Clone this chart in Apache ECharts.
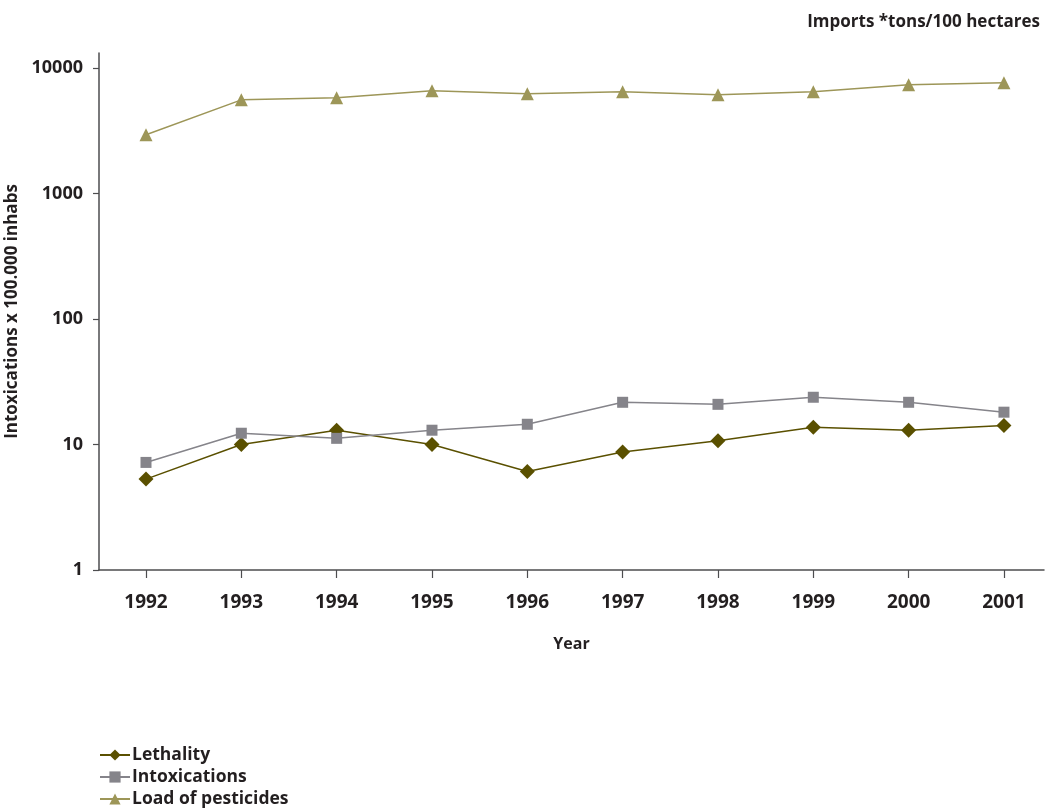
<!DOCTYPE html>
<html>
<head>
<meta charset="utf-8">
<script src="https://cdn.jsdelivr.net/npm/echarts@6/dist/echarts.min.js"></script>
<style>
html,body{margin:0;padding:0;background:#fff;}
#chart{width:1053px;height:812px;}
</style>
</head>
<body>
<div id="chart"></div>
<script>
var years = [1992, 1993, 1994, 1995, 1996, 1997, 1998, 1999, 2000, 2001];
var lethality = [5.3, 10, 13, 10, 6.1, 8.7, 10.7, 13.7, 13, 14.2];
var intoxications = [7.2, 12.3, 11.2, 13, 14.5, 21.7, 20.9, 23.8, 21.7, 18.1];
var loadPesticides = [2940, 5580, 5790, 6590, 6240, 6460, 6120, 6460, 7350, 7630];
var yTicks = [1, 10, 100, 1000, 10000];

function pairs(arr){ return years.map(function(y,i){ return [y, arr[i]]; }); }

var textColor = '#231f20';
var fontFam = '"Open Sans", "Noto Sans", sans-serif';

var chart = echarts.init(document.getElementById('chart'));
chart.setOption({
  animation: false,
  backgroundColor: '#fff',
  textStyle: { fontFamily: fontFam },
  title: {
    text: 'Imports *tons/100 hectares',
    right: 8, top: 9,
    textStyle: { fontSize: 17, fontWeight: 'bold', color: textColor, fontFamily: fontFam }
  },
  grid: { left: 99, right: 9, top: 53, bottom: 242, outerBoundsMode: 'none', containLabel: false },
  xAxis: {
    type: 'value',
    min: 1991.507, max: 2001.42,
    name: 'Year', nameLocation: 'middle', nameGap: 66,
    nameTextStyle: { fontSize: 16, fontWeight: 'bold', color: textColor },
    axisLine: { show: true, onZero: false, lineStyle: { color: '#4d4d4f', width: 1.5 } },
    axisTick: { show: true, customValues: years, length: 8, lineStyle: { color: '#4d4d4f', width: 1.2 } },
    axisLabel: { customValues: years, margin: 23, fontSize: 19, fontWeight: 'bold', color: textColor,
      formatter: function(v){ return String(Math.round(v)); } },
    splitLine: { show: false }
  },
  yAxis: {
    type: 'log', logBase: 10,
    min: 1, max: 13180,
    name: 'Intoxications x 100.000 inhabs', nameLocation: 'middle', nameGap: 60,
    nameTextStyle: { fontSize: 17, fontWeight: 'bold', color: textColor },
    axisLine: { show: true, lineStyle: { color: '#4d4d4f', width: 1.5 } },
    axisTick: { show: true, customValues: yTicks, length: 6, lineStyle: { color: '#4d4d4f', width: 1.2 } },
    axisLabel: { customValues: yTicks, margin: 16, fontSize: 18, fontWeight: 'bold', color: textColor,
      formatter: function(v){ return String(Math.round(v)); } },
    splitLine: { show: false }
  },
  legend: {
    orient: 'vertical', left: 99, top: 746, padding: 0,
    itemGap: 4, itemWidth: 30, itemHeight: 14,
    textStyle: { fontSize: 17.5, lineHeight: 18, fontWeight: 'bold', color: textColor, padding: [0,0,0,-3] },
    data: ['Lethality', 'Intoxications', 'Load of pesticides']
  },
  series: [
    {
      name: 'Lethality', type: 'line', data: pairs(lethality),
      symbol: 'diamond', symbolSize: 15,
      lineStyle: { color: '#5a5000', width: 1.5 },
      itemStyle: { color: '#5a5000' }
    },
    {
      name: 'Intoxications', type: 'line', data: pairs(intoxications),
      symbol: 'rect', symbolSize: 11,
      lineStyle: { color: '#85848a', width: 1.5 },
      itemStyle: { color: '#85848a' }
    },
    {
      name: 'Load of pesticides', type: 'line', data: pairs(loadPesticides),
      symbol: 'triangle', symbolSize: 13,
      lineStyle: { color: '#9d9658', width: 1.5 },
      itemStyle: { color: '#9d9658' }
    }
  ]
});
</script>
</body>
</html>
